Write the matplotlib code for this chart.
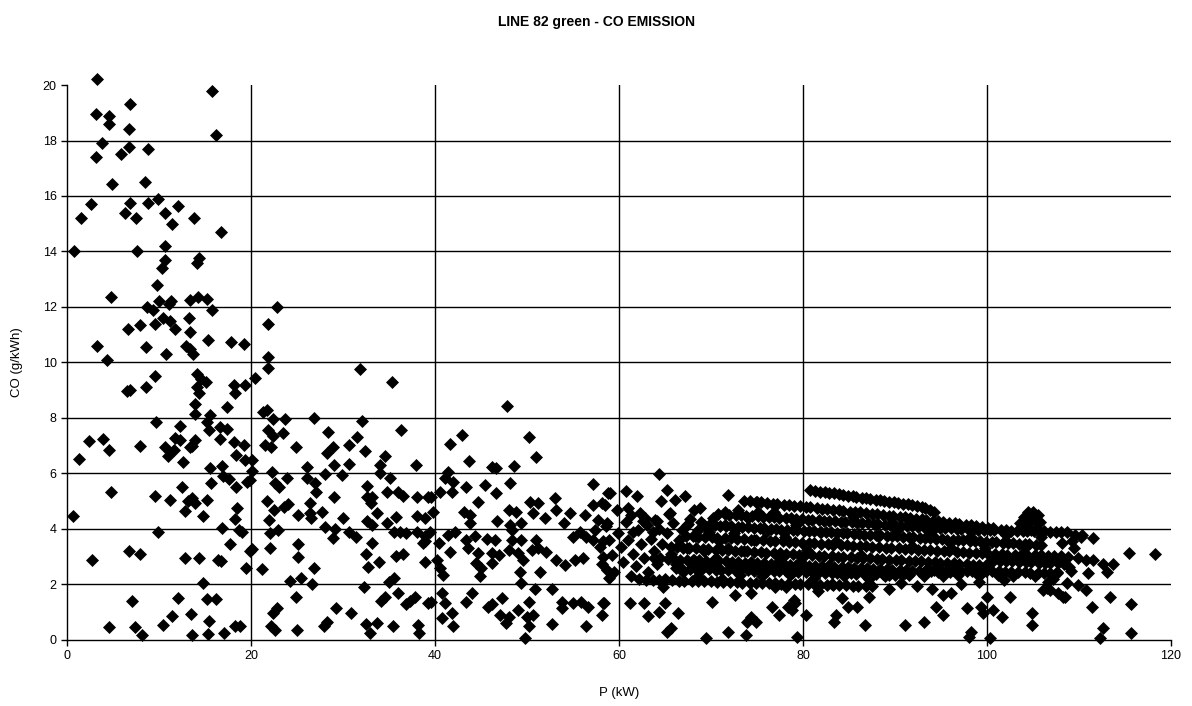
import matplotlib
matplotlib.use("Agg")
import matplotlib.pyplot as plt

# ---- data (P in kW, CO in g/kWh) ----

# low power, high emission region (P < 20)
low_power = [
    (3.3, 20.2), (3.1, 18.95), (4.6, 18.9), (4.6, 18.6), (6.8, 19.3), (6.7, 18.4), (15.8, 19.8),
    (16.2, 18.2), (3.8, 17.9), (3.2, 17.4), (5.9, 17.5), (6.7, 17.75), (8.8, 17.7), (4.9, 16.45),
    (8.5, 16.5), (2.6, 15.7), (1.5, 15.2), (6.8, 15.75), (6.3, 15.4), (7.5, 15.2), (8.8, 15.75),
    (9.9, 15.9), (10.6, 15.4), (11.4, 15.0), (12.1, 15.65), (13.8, 15.2), (16.7, 14.7), (0.8, 14.0),
    (7.6, 14.0), (10.7, 14.2), (10.65, 13.7), (10.3, 13.4), (14.1, 13.6), (14.3, 13.75), (9.75, 12.8),
    (4.8, 12.35), (8.7, 12.0), (9.3, 11.9), (10.0, 12.2), (11.3, 12.2), (11.1, 12.1), (13.4, 12.25),
    (14.2, 12.35), (15.25, 12.3), (15.8, 11.9), (10.4, 11.6), (11.2, 11.5), (11.7, 11.2), (13.3, 11.6),
    (13.4, 11.1), (9.6, 11.4), (7.9, 11.35), (6.6, 11.2), (3.3, 10.6), (8.55, 10.55), (10.8, 10.3),
    (12.9, 10.6), (13.4, 10.5), (13.7, 10.3), (15.3, 10.8), (17.8, 10.75), (19.2, 10.65), (4.3, 10.1),
    (9.6, 9.5), (8.55, 9.1), (6.5, 8.96), (6.9, 9.0), (14.1, 9.6), (14.6, 9.4), (15.1, 9.3),
    (14.1, 9.1), (14.3, 8.9), (18.2, 9.2), (18.3, 8.9), (19.3, 9.2), (17.4, 8.4), (13.9, 8.5),
    (13.9, 8.15), (15.5, 8.1), (15.2, 7.85), (9.7, 7.87), (12.3, 7.7), (15.4, 7.57), (16.6, 7.66),
    (17.4, 7.6), (16.6, 7.26), (2.4, 7.17), (3.9, 7.26), (4.6, 6.85), (7.9, 7.0), (10.6, 6.97),
    (11.7, 7.27), (12.3, 7.2), (11.0, 6.63), (11.6, 6.85), (13.4, 6.97), (13.9, 7.2), (13.6, 7.0),
    (12.6, 6.4), (18.1, 7.15), (19.2, 7.03), (18.4, 6.67), (19.3, 6.5), (1.3, 6.52), (15.5, 6.2),
    (16.8, 6.27), (17.0, 5.9), (17.6, 5.8), (18.4, 5.53), (19.6, 5.7), (15.7, 5.67), (12.5, 5.53),
    (4.75, 5.32), (9.6, 5.2), (11.2, 5.05), (13.2, 5.0), (13.6, 5.1), (13.9, 4.95), (15.2, 5.05),
    (12.8, 4.66), (14.75, 4.48), (18.5, 4.75), (0.6, 4.48), (18.3, 4.35), (16.9, 4.02), (18.7, 3.96),
    (9.85, 3.9), (17.7, 3.46), (19.9, 3.2), (2.7, 2.9), (6.7, 3.2), (7.9, 3.1), (12.8, 2.94),
    (14.4, 2.94), (16.4, 2.9), (16.7, 2.85), (19.5, 2.58), (14.8, 2.07), (7.1, 1.42), (12.1, 1.52),
    (15.2, 1.47), (16.2, 1.47), (11.4, 0.86), (10.4, 0.54), (13.5, 0.94), (15.4, 0.7), (18.3, 0.5),
    (4.6, 0.46), (7.4, 0.46), (8.2, 0.18), (13.6, 0.18), (15.3, 0.22), (17.1, 0.24),
]

# 19 - 40 kW
mid_power = [
    (22.8, 12.0), (21.8, 11.4), (21.8, 10.2), (21.9, 9.8), (20.4, 9.43), (31.8, 9.75), (35.3, 9.3),
    (21.7, 8.29), (21.3, 8.2), (22.4, 7.96), (23.7, 7.96), (26.8, 8.0), (32.1, 7.9), (36.3, 7.55),
    (21.9, 7.55), (22.4, 7.35), (23.5, 7.45), (21.5, 7.03), (22.2, 6.97), (24.9, 6.94), (28.4, 7.5),
    (28.9, 6.97), (28.3, 6.73), (30.6, 7.03), (31.5, 7.33), (32.4, 6.81), (34.6, 6.63), (34.0, 6.3),
    (37.9, 6.3), (20.1, 6.5), (20.1, 6.1), (19.9, 5.77), (26.1, 6.25), (29.0, 6.3), (28.0, 5.98),
    (30.7, 6.33), (29.9, 5.95), (22.25, 6.05), (23.9, 5.82), (22.6, 5.65), (23.0, 5.5), (26.05, 5.82),
    (26.95, 5.65), (27.1, 5.35), (26.4, 4.93), (26.4, 4.56), (26.5, 4.4), (29.05, 5.17), (27.7, 4.6),
    (21.7, 5.02), (24.05, 4.89), (23.6, 4.78), (22.5, 4.68), (25.1, 4.5), (22.0, 4.32), (30.0, 4.41),
    (32.6, 5.56), (32.6, 5.17), (33.2, 5.17), (33.0, 4.95), (33.7, 4.56), (35.1, 5.82), (34.0, 6.0),
    (34.75, 5.35), (36.0, 5.35), (36.5, 5.2), (38.0, 5.17), (39.25, 5.17), (38.0, 4.47), (38.9, 4.4),
    (35.8, 4.45), (34.75, 4.2), (32.6, 4.3), (33.2, 4.15), (28.0, 4.08), (29.1, 4.0), (28.9, 3.66),
    (30.7, 3.88), (31.4, 3.7), (35.5, 3.9), (36.2, 3.88), (36.9, 3.85), (38.0, 3.88), (38.7, 3.48),
    (38.9, 3.75), (22.1, 3.84), (22.9, 3.96), (19.0, 3.9), (20.1, 3.27), (22.1, 3.3), (25.1, 3.45),
    (25.1, 3.0), (33.2, 3.48), (32.5, 3.1), (33.9, 2.82), (32.7, 2.62), (35.8, 3.04), (36.5, 3.1),
    (38.9, 2.8), (21.2, 2.55), (26.8, 2.58), (25.4, 2.25), (24.2, 2.13), (26.6, 2.0), (32.3, 1.92),
    (35.5, 2.22), (35.0, 2.1), (36.0, 1.68), (34.6, 1.54), (34.1, 1.4), (37.8, 1.56), (37.3, 1.4),
    (36.8, 1.3), (39.25, 1.35), (24.9, 1.54), (22.8, 1.14), (22.4, 0.98), (29.2, 1.16), (30.9, 0.98),
    (28.3, 0.66), (27.9, 0.5), (22.2, 0.5), (22.6, 0.35), (25.0, 0.36), (32.5, 0.58), (33.7, 0.62),
    (32.9, 0.24), (35.4, 0.5), (38.2, 0.54), (38.3, 0.24), (18.8, 0.5),
]

# 38 - 59 kW
upper_mid_power = [
    (47.8, 8.43), (42.9, 7.39), (41.6, 7.05), (43.7, 6.45), (46.2, 6.25), (46.6, 6.2), (48.6, 6.27),
    (50.25, 7.3), (51.0, 6.58), (41.45, 6.07), (41.1, 5.82), (42.0, 5.7), (41.9, 5.35), (40.5, 5.35),
    (39.6, 5.17), (43.4, 5.5), (45.4, 5.59), (46.6, 5.31), (48.2, 5.65), (44.7, 4.96), (43.1, 4.63),
    (43.8, 4.52), (43.8, 4.2), (39.8, 4.63), (46.7, 4.27), (48.0, 4.68), (48.85, 4.62), (48.2, 4.14),
    (49.3, 4.2), (50.3, 4.98), (51.2, 4.92), (50.7, 4.56), (52.0, 4.38), (53.0, 5.1), (53.2, 4.68),
    (54.7, 4.56), (54.0, 4.2), (56.3, 4.5), (57.2, 5.61), (57.2, 4.86), (58.1, 4.92), (58.8, 5.3),
    (57.75, 4.32), (39.5, 3.9), (38.9, 3.55), (40.4, 3.48), (41.45, 3.78), (42.2, 3.9), (41.6, 3.18),
    (40.2, 2.88), (40.5, 2.58), (40.9, 2.34), (43.4, 3.6), (43.6, 3.3), (44.35, 3.73), (44.7, 3.12),
    (44.5, 2.76), (45.0, 2.58), (44.9, 2.3), (45.6, 3.65), (46.5, 3.6), (46.15, 3.12), (46.15, 2.76),
    (47.0, 3.06), (48.0, 3.24), (48.35, 3.6), (48.35, 3.95), (49.4, 3.6), (49.0, 3.12), (49.6, 2.88),
    (49.25, 2.46), (49.4, 2.07), (50.5, 3.24), (51.0, 3.6), (51.2, 3.3), (52.1, 3.18), (51.4, 2.46),
    (50.9, 1.82), (52.7, 1.82), (53.2, 2.88), (54.1, 2.7), (55.2, 2.88), (56.1, 2.94), (55.0, 3.72),
    (55.75, 3.9), (56.45, 3.72), (57.2, 3.6), (58.3, 3.55), (58.3, 3.0), (58.7, 2.52), (58.9, 2.22),
    (39.6, 1.38), (40.8, 1.68), (41.1, 1.32), (41.8, 0.96), (40.8, 0.78), (42.0, 0.5), (43.4, 1.38),
    (44.0, 1.68), (45.8, 1.2), (46.2, 1.3), (47.25, 1.5), (47.1, 0.9), (47.7, 0.6), (48.0, 0.84),
    (49.0, 1.08), (50.25, 1.38), (50.0, 0.84), (50.7, 0.9), (50.2, 0.5), (49.8, 0.06), (52.7, 0.57),
    (53.8, 1.38), (53.8, 1.14), (55.0, 1.32), (55.9, 1.38), (56.6, 1.2), (56.4, 0.5), (58.1, 0.9),
    (58.3, 1.32),
]

# 58 - 102 kW, loose points around the dense band
high_power = [
    (64.4, 5.98), (59.0, 5.29), (60.8, 5.38), (62.0, 5.19), (65.2, 5.4), (64.6, 5.0), (66.1, 5.05),
    (67.2, 5.19), (58.5, 4.86), (59.75, 4.68), (61.0, 4.75), (61.35, 4.52), (62.3, 4.56), (62.8, 4.38),
    (65.4, 4.54), (64.1, 4.27), (68.1, 4.68), (68.8, 4.74), (71.9, 5.22), (71.5, 4.63), (75.0, 4.98),
    (58.7, 4.2), (67.35, 4.14), (68.6, 3.96), (70.25, 4.18), (61.5, 3.9), (63.7, 3.9), (65.5, 4.56),
    (63.9, 4.32), (67.5, 4.17), (62.6, 4.3),
    (58.4, 1.32), (61.2, 1.34), (62.75, 1.32), (63.2, 0.88), (64.35, 1.0), (65.0, 1.34), (66.4, 0.96),
    (65.2, 0.3), (65.6, 0.45), (69.5, 0.06), (70.1, 1.38), (71.9, 0.3), (73.9, 0.66), (74.4, 0.84),
    (74.9, 0.66), (73.8, 0.18), (76.6, 1.2), (77.4, 0.9), (78.4, 1.2), (72.6, 1.62), (74.4, 1.68),
    (64.8, 1.9), (77.0, 1.9), (78.1, 1.9), (79.1, 1.32), (78.75, 1.08), (80.3, 0.9), (83.6, 0.9),
    (83.4, 0.66), (84.9, 1.2), (85.9, 1.2), (86.7, 0.54), (87.2, 1.56), (84.2, 1.5), (89.3, 1.82),
    (91.1, 0.54), (93.2, 0.66), (94.5, 1.2), (95.25, 0.9), (97.8, 1.14), (79.3, 0.1), (98.0, 0.12),
    (94.0, 1.85), (95.25, 1.62), (96.1, 1.68), (79.0, 1.44), (81.6, 1.75), (83.1, 2.0), (90.6, 2.05),
    (92.4, 1.95), (97.2, 2.0), (99.1, 2.1), (101.8, 2.15),
]

# above 98 kW
top_power = [
    (98.3, 0.3), (100.3, 0.06), (99.3, 1.2), (99.6, 0.96), (100.7, 1.08), (101.6, 0.84), (100.0, 1.56),
    (102.5, 1.56), (104.85, 0.96), (104.85, 0.54), (111.4, 1.2), (112.65, 0.42), (112.3, 0.06),
    (115.7, 1.3), (115.7, 0.24), (113.4, 1.56), (115.4, 3.15), (118.3, 3.1), (111.5, 3.66),
    (110.2, 3.72), (109.5, 3.3), (111.0, 2.4), (113.0, 2.46), (113.7, 2.75), (112.65, 2.75),
    (111.5, 2.9), (110.8, 2.88), (109.9, 2.94), (110.8, 1.8), (109.9, 1.98), (108.3, 1.56),
    (107.75, 1.68), (106.6, 2.1), (106.1, 1.8), (106.8, 1.8), (108.9, 2.64), (108.7, 2.05),
    (106.5, 1.86), (108.5, 1.56), (107.6, 2.45), (110.3, 3.78), (109.2, 3.55),
]

# heavily overlapped cluster around 105 kW
blob = [
    (103.6, 4.2), (104.0, 4.45), (104.5, 4.6), (105.0, 4.62), (105.5, 4.5), (105.8, 4.25),
    (105.4, 4.0), (104.8, 3.95), (104.2, 4.05), (104.8, 4.3), (104.3, 4.3), (105.3, 4.3),
]

# dense cloud 57 - 110 kW between the streaks
dense_cloud = [
    (57.4, 3.95), (57.9, 3.35), (58.1, 2.75), (58.6, 4.1), (58.9, 3.6), (59.2, 3.05), (59.5, 2.45),
    (59.9, 3.85), (60.2, 3.35), (60.4, 2.8), (60.8, 4.25), (61.0, 3.6), (61.3, 2.3), (61.5, 3.1),
    (61.9, 2.65), (62.1, 3.95), (62.4, 3.45), (62.7, 2.95), (63.0, 4.15), (63.2, 2.45), (63.5, 3.65),
    (63.8, 3.2), (64.1, 2.75), (64.3, 4.0), (64.7, 3.45), (65.0, 2.2), (65.2, 3.85), (65.6, 3.1),
    (65.9, 4.2), (66.2, 2.75), (66.5, 3.6), (66.8, 3.95), (67.0, 2.45), (67.4, 3.3), (67.7, 4.35),
    (68.0, 2.9), (68.3, 3.75), (68.6, 2.3), (68.9, 4.25), (69.2, 3.2), (69.5, 2.7), (69.8, 3.9),
    (70.2, 4.4), (70.5, 2.95), (70.9, 3.55), (71.2, 2.2), (71.5, 4.15), (71.8, 3.3), (72.1, 2.75),
    (72.5, 3.85), (72.9, 4.7), (73.2, 2.35), (73.6, 3.2), (74.0, 4.4), (74.3, 2.8), (74.7, 3.6),
    (75.1, 4.6), (75.5, 2.3), (76.0, 3.9), (76.4, 2.65), (76.9, 4.6), (77.4, 3.0), (78.0, 3.7),
    (78.6, 2.35), (79.2, 4.15), (79.8, 2.8), (80.4, 3.25), (81.2, 2.25), (82.0, 3.9), (82.8, 2.7),
    (83.6, 3.55), (84.5, 2.3), (85.4, 4.45), (86.3, 3.05), (87.2, 2.2), (88.1, 3.75), (88.9, 2.3),
    (90.2, 3.95), (91.1, 2.4), (91.9, 3.4), (93.1, 2.3), (93.8, 3.85), (95.2, 2.3), (96.1, 3.3),
    (96.8, 2.35), (98.2, 3.7), (99.1, 2.3), (99.8, 3.3), (101.2, 2.35), (102.1, 3.8), (102.8, 2.3),
    (104.1, 3.35), (105.2, 2.3), (105.9, 3.7), (107.2, 2.2), (108.1, 3.5), (109.1, 2.5), (109.6, 3.8),
]

# the streaks (consecutive logged points sliding down to the right)
streak1_x = [80.8, 81.3, 81.9, 82.4, 82.8, 83.4, 83.9, 84.3, 84.9, 85.4, 85.8, 86.4, 86.9, 87.3, 87.9,
             88.4, 88.8, 89.4, 89.9, 90.3, 90.9, 91.4, 91.8, 92.4, 92.9, 93.3, 93.8, 94.2]
streak1_y = [5.40, 5.37, 5.34, 5.32, 5.29, 5.28, 5.25, 5.23, 5.20, 5.19, 5.16, 5.13, 5.12, 5.09, 5.06,
             5.05, 5.02, 4.99, 4.97, 4.95, 4.91, 4.89, 4.86, 4.82, 4.79, 4.74, 4.70, 4.63]

streak2_x = [73.6, 74.2, 74.9, 75.4, 76.1, 76.7, 77.2, 77.9, 78.5, 79.0, 79.7, 80.3, 80.8, 81.5, 82.1,
             82.6, 83.3, 83.9, 84.4, 85.1, 85.7, 86.2, 86.9, 87.5, 88.0, 88.7, 89.3, 89.8, 90.5, 91.1,
             91.6, 92.3, 92.9, 93.4, 94.1, 94.7, 95.2, 95.9, 96.5, 97.0, 97.7, 98.3, 98.8, 99.5, 100.1,
             100.7]
streak2_y = [5.02, 5.00, 4.97, 4.96, 4.94, 4.91, 4.90, 4.88, 4.85, 4.84, 4.82, 4.79, 4.78, 4.76, 4.73,
             4.72, 4.70, 4.67, 4.66, 4.63, 4.61, 4.60, 4.57, 4.55, 4.53, 4.51, 4.48, 4.47, 4.44, 4.42,
             4.40, 4.37, 4.35, 4.33, 4.30, 4.28, 4.26, 4.23, 4.21, 4.18, 4.16, 4.13, 4.11, 4.08, 4.05,
             4.02]

streak3_x = [70.8, 71.5, 72.0, 72.7, 73.3, 73.8, 74.5, 75.1, 75.6, 76.3, 76.9, 77.4, 78.1, 78.7, 79.2,
             79.9, 80.5, 81.0, 81.7, 82.3, 82.8, 83.5, 84.1, 84.6, 85.3, 85.9, 86.4, 87.1, 87.7, 88.2,
             88.9, 89.5, 90.0, 90.7, 91.3, 91.8, 92.5, 93.1, 93.6, 94.3, 94.9, 95.4, 96.1, 96.7, 97.2,
             97.9, 98.5, 99.0, 99.7, 100.3, 100.8, 101.5, 102.1, 102.6, 103.3, 103.9, 104.4, 105.1,
             105.7, 106.2, 106.9, 107.5, 108.0, 108.7]
streak3_y = [4.55, 4.54, 4.52, 4.51, 4.50, 4.48, 4.47, 4.46, 4.44, 4.43, 4.42, 4.40, 4.39, 4.38, 4.36,
             4.35, 4.34, 4.33, 4.31, 4.30, 4.29, 4.27, 4.26, 4.25, 4.24, 4.22, 4.21, 4.20, 4.18, 4.17,
             4.16, 4.14, 4.13, 4.12, 4.11, 4.09, 4.08, 4.07, 4.06, 4.05, 4.04, 4.03, 4.02, 4.01, 4.00,
             3.99, 3.98, 3.97, 3.97, 3.96, 3.96, 3.95, 3.95, 3.94, 3.94, 3.93, 3.93, 3.92, 3.92, 3.91,
             3.90, 3.90, 3.89, 3.88]

streak4_x = [69.2, 69.8, 70.4, 71.0, 71.6, 72.2, 72.9, 73.4, 74.0, 74.7, 75.3, 75.8, 76.5, 77.1, 77.6,
             78.3, 78.9, 79.4, 80.1, 80.7, 81.2, 81.9, 82.5, 83.0, 83.7, 84.3, 84.8, 85.5, 86.1, 86.6,
             87.3, 87.9, 88.4, 89.1, 89.7, 90.2, 90.9, 91.5, 92.0, 92.7, 93.3, 93.8, 94.5, 95.1, 95.6,
             96.3, 96.9, 97.4, 98.1, 98.7, 99.2, 99.9, 100.5, 101.0, 101.7, 102.3, 102.8, 103.5, 104.1,
             104.6, 105.3, 105.9]
streak4_y = [4.15, 4.14, 4.13, 4.12, 4.10, 4.09, 4.08, 4.07, 4.06, 4.04, 4.03, 4.02, 4.01, 4.00, 3.98,
             3.97, 3.96, 3.95, 3.94, 3.92, 3.91, 3.90, 3.89, 3.88, 3.86, 3.85, 3.84, 3.83, 3.82, 3.80,
             3.79, 3.78, 3.77, 3.76, 3.74, 3.73, 3.72, 3.71, 3.70, 3.68, 3.67, 3.66, 3.65, 3.64, 3.62,
             3.61, 3.60, 3.59, 3.58, 3.56, 3.55, 3.54, 3.53, 3.52, 3.50, 3.49, 3.48, 3.47, 3.46, 3.45,
             3.44, 3.43]

streak5_x = [67.3, 68.0, 68.6, 69.4, 70.1, 70.7, 71.5, 72.2, 72.8, 73.6, 74.3, 74.9, 75.7, 76.4, 77.0,
             77.8, 78.5, 79.1, 79.9, 80.6, 81.2, 82.0, 82.7, 83.3, 84.1, 84.8, 85.4, 86.2, 86.9, 87.5,
             88.3, 89.0, 89.6, 90.4, 91.1, 91.7, 92.5, 93.2, 93.8, 94.6, 95.3, 95.9, 96.7, 97.4, 98.0,
             98.8, 99.5, 100.1, 100.9, 101.6, 102.2, 103.0, 103.7]
streak5_y = [3.75, 3.74, 3.72, 3.71, 3.70, 3.68, 3.67, 3.66, 3.64, 3.63, 3.62, 3.60, 3.59, 3.57, 3.56,
             3.55, 3.53, 3.52, 3.51, 3.49, 3.48, 3.47, 3.45, 3.44, 3.42, 3.41, 3.40, 3.38, 3.37, 3.36,
             3.34, 3.33, 3.32, 3.30, 3.29, 3.28, 3.26, 3.25, 3.23, 3.22, 3.21, 3.19, 3.18, 3.17, 3.15,
             3.14, 3.13, 3.11, 3.10, 3.09, 3.07, 3.06, 3.05]

streak6_x = [65.6, 66.3, 67.0, 67.6, 68.4, 69.1, 69.7, 70.5, 71.2, 71.8, 72.6, 73.3, 73.9, 74.7, 75.4,
             76.0, 76.8, 77.5, 78.1, 78.9, 79.6, 80.2, 81.0, 81.7, 82.3, 83.1, 83.8, 84.4, 85.2, 85.9,
             86.5, 87.3, 88.0, 88.6, 89.4, 90.1, 90.7, 91.5, 92.2, 92.8, 93.6, 94.3, 94.9, 95.7, 96.4,
             97.0, 97.8, 98.5, 99.1, 99.9]
streak6_y = [3.35, 3.34, 3.32, 3.31, 3.30, 3.28, 3.27, 3.26, 3.24, 3.23, 3.22, 3.20, 3.19, 3.18, 3.16,
             3.15, 3.14, 3.12, 3.11, 3.10, 3.08, 3.07, 3.06, 3.04, 3.03, 3.02, 3.00, 2.99, 2.98, 2.96,
             2.95, 2.94, 2.92, 2.91, 2.90, 2.88, 2.87, 2.86, 2.84, 2.83, 2.82, 2.80, 2.79, 2.78, 2.76,
             2.75, 2.74, 2.72, 2.71, 2.70]

streak7_x = [63.8, 64.5, 65.3, 66.0, 66.6, 67.4, 68.1, 68.7, 69.5, 70.2, 70.8, 71.6, 72.3, 72.9, 73.7,
             74.4, 75.0, 75.8, 76.5, 77.1, 77.9, 78.6, 79.2, 80.0, 80.7, 81.3, 82.1, 82.8, 83.4, 84.2,
             84.9, 85.5, 86.3, 87.0, 87.6, 88.4, 89.1, 89.7, 90.5, 91.2, 91.8, 92.6, 93.3, 93.9, 94.7,
             95.4, 96.0, 96.8]
streak7_y = [2.95, 2.94, 2.93, 2.92, 2.90, 2.89, 2.88, 2.87, 2.86, 2.85, 2.84, 2.83, 2.82, 2.80, 2.79,
             2.78, 2.77, 2.76, 2.75, 2.74, 2.73, 2.72, 2.70, 2.69, 2.68, 2.67, 2.66, 2.65, 2.64, 2.63,
             2.62, 2.60, 2.59, 2.58, 2.57, 2.56, 2.55, 2.54, 2.53, 2.52, 2.50, 2.49, 2.48, 2.47, 2.46,
             2.45, 2.44, 2.43]

streak8_x = [62.2, 62.9, 63.7, 64.4, 65.0, 65.8, 66.5, 67.1, 67.9, 68.6, 69.2, 70.0, 70.7, 71.3, 72.1,
             72.8, 73.4, 74.2, 74.9, 75.5, 76.3, 77.0, 77.6, 78.4, 79.1, 79.7, 80.5, 81.2, 81.8, 82.6,
             83.3, 83.9, 84.7, 85.4, 86.0, 86.8, 87.5]
streak8_y = [2.18, 2.17, 2.17, 2.16, 2.15, 2.15, 2.14, 2.13, 2.13, 2.12, 2.11, 2.11, 2.10, 2.09, 2.09,
             2.08, 2.07, 2.07, 2.06, 2.05, 2.05, 2.04, 2.03, 2.03, 2.02, 2.01, 2.01, 2.00, 1.99, 1.99,
             1.98, 1.97, 1.97, 1.96, 1.95, 1.95, 1.94]

streak9_x = [66.2, 66.9, 67.7, 68.4, 69.0, 69.8, 70.5, 71.1, 71.9, 72.6, 73.2, 74.0, 74.7, 75.3, 76.1,
             76.8, 77.4, 78.2, 78.9, 79.5, 80.3, 81.0, 81.6, 82.4, 83.1, 83.7, 84.5, 85.2, 85.8, 86.6,
             87.3, 87.9, 88.7, 89.4, 90.0, 90.8, 91.5]
streak9_y = [2.58, 2.57, 2.57, 2.56, 2.55, 2.55, 2.54, 2.53, 2.53, 2.52, 2.51, 2.51, 2.50, 2.49, 2.49,
             2.48, 2.47, 2.47, 2.46, 2.45, 2.45, 2.44, 2.43, 2.43, 2.42, 2.41, 2.41, 2.40, 2.39, 2.39,
             2.38, 2.37, 2.37, 2.36, 2.35, 2.35, 2.34]

streak10_x = [93.5, 94.2, 95.0, 95.7, 96.3, 97.1, 97.8, 98.4, 99.2, 99.9, 100.5, 101.3, 102.0, 102.6,
              103.4, 104.1, 104.7, 105.5, 106.2, 106.8, 107.6]
streak10_y = [2.55, 2.54, 2.53, 2.53, 2.52, 2.51, 2.50, 2.50, 2.49, 2.48, 2.47, 2.47, 2.46, 2.45,
              2.44, 2.44, 2.43, 2.42, 2.41, 2.41, 2.40]

streak11_x = [100.6, 101.4, 102.1, 102.7, 103.5, 104.2, 104.8, 105.6, 106.3, 106.9, 107.7, 108.4,
              104.4, 105.2, 105.9, 106.6, 107.3, 108.0, 108.8]
streak11_y = [2.86, 2.85, 2.84, 2.83, 2.82, 2.81, 2.80, 2.79, 2.78, 2.77, 2.76, 2.75,
              3.08, 3.07, 3.05, 3.04, 3.03, 3.02, 3.00]

x_ticks = [0, 20, 40, 60, 80, 100, 120]
y_ticks = [0, 2, 4, 6, 8, 10, 12, 14, 16, 18, 20]


def collect():
    xs, ys = [], []
    for group in (low_power, mid_power, upper_mid_power, high_power, top_power, blob, dense_cloud):
        xs += [p[0] for p in group]
        ys += [p[1] for p in group]
    streaks = [
        (streak1_x, streak1_y), (streak2_x, streak2_y), (streak3_x, streak3_y),
        (streak4_x, streak4_y), (streak5_x, streak5_y), (streak6_x, streak6_y),
        (streak7_x, streak7_y), (streak8_x, streak8_y), (streak9_x, streak9_y),
        (streak10_x, streak10_y), (streak11_x, streak11_y),
    ]
    for sx, sy in streaks:
        for a, b in zip(sx, sy):
            xs.append(a)
            ys.append(b)
    return xs, ys


plt.rcParams["font.family"] = ["Liberation Sans", "DejaVu Sans"]

fig = plt.figure(figsize=(11.92, 7.06), dpi=100)
ax = fig.add_axes([0.0562, 0.0935, 0.9262, 0.7861])

# grid (no line on the top / right edge, as in the original)
for yv in y_ticks[1:-1]:
    ax.axhline(yv, color="black", lw=1.0, zorder=1)
for xv in x_ticks[1:-1]:
    ax.axvline(xv, color="black", lw=1.0, zorder=1)

px, py = collect()
ax.scatter(px, py, marker="D", s=44, color="black", linewidths=0, zorder=3, clip_on=False)

ax.set_xlim(0, 120)
ax.set_ylim(0, 20)
ax.set_xticks(x_ticks)
ax.set_yticks(y_ticks)
ax.tick_params(direction="out", length=4, width=1, labelsize=9, colors="black")

for side in ("top", "right"):
    ax.spines[side].set_visible(False)
for side in ("left", "bottom"):
    ax.spines[side].set_linewidth(1.0)
    ax.spines[side].set_color("black")

ax.set_xlabel("P (kW)", fontsize=9.5, labelpad=18)
ax.set_ylabel("CO (g/kWh)", fontsize=9.5, labelpad=14)
fig.text(0.5, 0.969, "LINE 82 green - CO EMISSION", ha="center", va="center",
         fontsize=10, fontweight="bold")

fig.savefig("out.png", dpi=100)
